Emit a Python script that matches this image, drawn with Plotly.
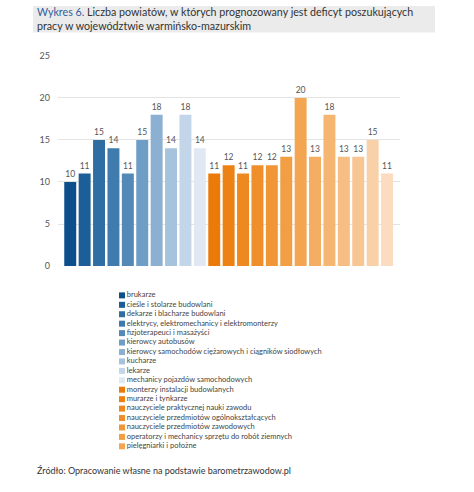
import plotly.graph_objects as go

W, H = 474, 492

categories = [
    "brukarze",
    "cieśle i stolarze budowlani",
    "dekarze i blacharze budowlani",
    "elektrycy, elektromechanicy i elektromonterzy",
    "fizjoterapeuci i masażyści",
    "kierowcy autobusów",
    "kierowcy samochodów ciężarowych i ciągników siodłowych",
    "kucharze",
    "lekarze",
    "mechanicy pojazdów samochodowych",
    "monterzy instalacji budowlanych",
    "murarze i tynkarze",
    "nauczyciele praktycznej nauki zawodu",
    "nauczyciele przedmiotów ogólnokształcących",
    "nauczyciele przedmiotów zawodowych",
    "operatorzy i mechanicy sprzętu do robót ziemnych",
    "pielęgniarki i położne",
    "pracownicy robót wykończeniowych w budownictwie",
    "psycholodzy i psychoterapeuci",
    "samodzielni księgowi",
    "spawacze",
    "ślusarze",
    "zaopatrzeniowcy i dostawcy",
]
values = [10, 11, 15, 14, 11, 15, 18, 14, 18, 14,
          11, 12, 11, 12, 12, 13, 20, 13, 18, 13, 13, 15, 11]
colors = [
    "#0c4f8a", "#1c5e97", "#2f6ea3", "#3f7bad", "#5389b6",
    "#6e9dc5", "#8bb0d2", "#a6c3dd", "#c3d6e9", "#e0e9f3",
    "#ec7a0b", "#ed8214", "#ee8921", "#ef8f2b", "#f09636",
    "#f19e44", "#f3a552", "#f4ad62", "#f5b672", "#f6be82",
    "#f7c692", "#f9d1a8", "#fbdcc0",
]
legend_count = 17
y_ticks = [0, 5, 10, 15, 20, 25]

title_html = ("<span style='color:#2f5f9e'>Wykres 6.</span> Liczba powiatów, w których "
              "prognozowany jest deficyt poszukujących<br>pracy w województwie warmińsko-mazurskim")
source_text = "Źródło: Opracowanie własne na podstawie barometrzawodow.pl"

FONT = "Lato"

fig = go.Figure()
fig.add_trace(go.Bar(
    x=list(range(len(values))), y=values,
    marker=dict(color=colors, line=dict(width=0)),
    text=[str(v) for v in values], textposition="outside",
    textfont=dict(size=8.5, color="#555555", family=FONT),
    cliponaxis=False, showlegend=False, hoverinfo="skip",
))

# legend built as a scatter on a helper axis
fig.add_trace(go.Scatter(
    x=[122] * legend_count, y=list(range(legend_count)),
    mode="markers+text",
    marker=dict(symbol="square", size=6, color=colors[:legend_count]),
    text=categories[:legend_count], textposition="middle right",
    textfont=dict(size=7.5, color="#444444", family=FONT),
    xaxis="x2", yaxis="y2", showlegend=False, hoverinfo="skip",
    cliponaxis=False,
))

row0, rowstep = 296, 9.65
fig.update_layout(
    width=W, height=H,
    margin=dict(l=0, r=0, t=0, b=0),
    paper_bgcolor="white", plot_bgcolor="rgba(0,0,0,0)",
    font=dict(family=FONT),
    bargap=0.17,
    xaxis=dict(domain=[58 / W, 400 / W], range=[-0.85, 22.9],
               showticklabels=False, showgrid=False, zeroline=False, ticks=""),
    yaxis=dict(domain=[1 - 266 / H, 1 - 51 / H], range=[0, 25],
               tickvals=y_ticks, showgrid=True, gridcolor="#e3e3e3", gridwidth=1,
               zeroline=False, tickfont=dict(size=9, color="#555555", family=FONT),
               ticklabelstandoff=7),
    xaxis2=dict(domain=[0, 1], range=[0, W], visible=False, anchor="y2"),
    yaxis2=dict(domain=[0, 1], range=[(H - row0) / rowstep, -row0 / rowstep],
                visible=False, anchor="x2"),
    shapes=[dict(type="rect", xref="paper", yref="paper",
                 x0=33 / W, x1=435 / W, y0=1 - 27 / H, y1=1,
                 fillcolor="#ebebeb", line=dict(width=0), layer="below")],
    annotations=[
        dict(text=title_html, xref="paper", yref="paper", x=35 / W, y=1,
             xanchor="left", yanchor="top", yshift=3, align="left", showarrow=False,
             font=dict(size=10.7, color="#333333", family=FONT)),
        dict(text=source_text, xref="paper", yref="paper", x=35 / W, y=1 - 475 / H,
             xanchor="left", yanchor="middle", showarrow=False,
             font=dict(size=9, color="#333333", family=FONT)),
    ],
)

fig.write_html("out.html", config={"displayModeBar": False},
               post_script="document.body.style.margin='0';document.body.style.overflow='hidden';")
